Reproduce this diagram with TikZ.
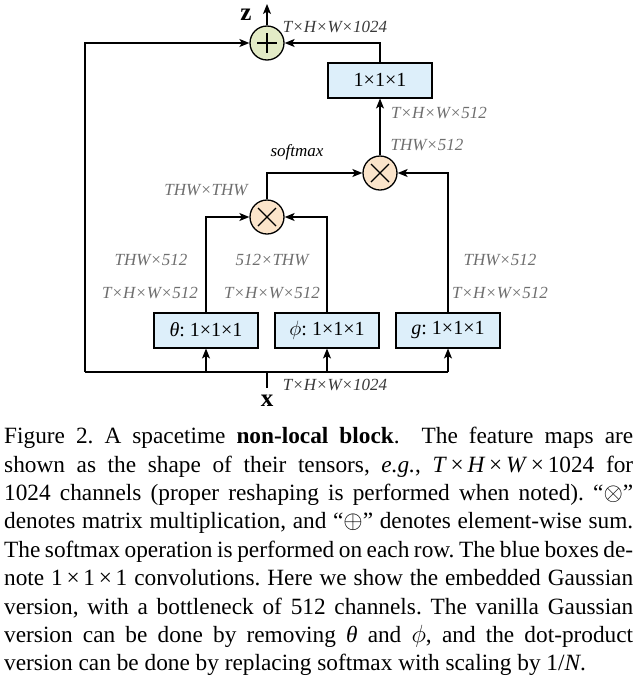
\documentclass[tikz,border=0pt]{standalone}
\usepackage{fontspec}
\setmainfont{Liberation Serif}
\usetikzlibrary{arrows.meta}
\definecolor{convblue}{HTML}{DDEFFA}
\definecolor{plusfill}{HTML}{E3EBC6}
\definecolor{mulfill}{HTML}{FBE4CA}
\definecolor{dimgray}{HTML}{6E6E6E}
\definecolor{darkgray}{HTML}{383838}
\newcommand\tms{\kern0.16em×\kern0.16em}
\frenchspacing
\begin{document}
\begin{tikzpicture}[x=1pt,y=-1pt,
  conv/.style={draw=black,line width=2pt,fill=convblue,minimum width=104pt,minimum height=35pt,inner sep=0pt,font=\fontsize{20}{22}\selectfont},
  opcirc/.style={circle,draw=black,line width=1.3pt,minimum size=34pt,inner sep=0pt},
  wire/.style={line width=1.2pt},
  conn/.style={line width=1.2pt,-{Stealth[length=10pt,width=8pt,inset=2.5pt]}},
  dim/.style={font=\fontsize{17}{19}\selectfont\itshape,text=dimgray,inner sep=0pt},
  dimdark/.style={dim,text=darkgray},
  vec/.style={font=\fontsize{25}{27}\selectfont\bfseries,inner sep=0pt},
  caption/.style={anchor=north west,text width=629pt,align=justify,inner sep=0pt,font=\fontsize{23.3}{28.4}\selectfont}
]
\useasboundingbox (0,0) rectangle (641,678);

% operator circles
\node[opcirc,fill=plusfill] (sum) at (267,43) {};
\draw[wire] (sum.center) +(-10,0) -- +(10,0);
\draw[wire] (sum.center) +(0,-10) -- +(0,10);
\node[opcirc,fill=mulfill] (mul2) at (380,173) {};
\draw[wire] (mul2.center) +(-9,-9) -- +(9,9);
\draw[wire] (mul2.center) +(-9,9) -- +(9,-9);
\node[opcirc,fill=mulfill] (mul1) at (267,217) {};
\draw[wire] (mul1.center) +(-9,-9) -- +(9,9);
\draw[wire] (mul1.center) +(-9,9) -- +(9,-9);

% convolution boxes
\node[conv] (top) at (380,80) {1×1×1};
\node[conv] (theta) at (206,330) {\textit{θ}: 1×1×1};
\node[conv] (phi) at (327,330) {$\phi$: 1×1×1};
\node[conv] (g) at (448,330) {\textit{g}: 1×1×1};

% coordinates
\coordinate (zout) at (267,4);
\coordinate (bl) at (85,372);
\coordinate (xj) at (267,372);
\coordinate (xin) at (267,388);
\coordinate (br) at (g.south |- bl);
\coordinate (tj) at (theta.south |- bl);
\coordinate (pj) at (phi.south |- bl);

% connectors
\draw[conn] (sum) -- (zout);
\draw[conn] (top.north) |- (sum);
\draw[conn] (bl) |- (sum);
\draw[conn] (mul2) -- (top);
\draw[conn] (mul1.north) |- (mul2);
\draw[conn] (g.north) |- (mul2);
\draw[conn] (theta.north) |- (mul1);
\draw[conn] (phi.north) |- (mul1);
\draw[wire] (bl) -- (br);
\draw[wire] (xin) -- (xj);
\draw[conn] (tj) -- (theta.south);
\draw[conn] (pj) -- (phi.south);
\draw[conn] (br) -- (g.south);

% labels
\node[vec] (zlab) at (246,15) {z};
\node[vec] (xlab) at (267,401) {x};
\node[dimdark] (l1) at (335,27) {T×H×W×1024};
\node[dim] (l2) at (439,113) {T×H×W×512};
\node[dim] (l3) at (427,145) {THW×512};
\node[dimdark,text=black] (l4) at (297,152) {softmax};
\node[dim] (l5) at (206,190) {THW×THW};
\node[dim] (l6) at (151,260) {THW×512};
\node[dim] (l7) at (272,260) {512×THW};
\node[dim] (l8) at (500,260) {THW×512};
\node[dim] (l9) at (150,293) {T×H×W×512};
\node[dim] (l10) at (272,293) {T×H×W×512};
\node[dim] (l11) at (500,293) {T×H×W×512};
\node[dimdark] (l12) at (335,385) {T×H×W×1024};

% caption
\node[caption] (cap) at (4,427) {Figure 2. A spacetime \textbf{non-local block}.\ \ The feature maps are\linebreak
shown as the shape of their tensors, \textit{e.g.}, \textit{T}\tms\textit{H}\tms\textit{W}\tms1024 for\linebreak
1024 channels (proper reshaping is performed when noted). “$\otimes$”\linebreak
denotes matrix multiplication, and “$\oplus$” denotes element-wise sum.\linebreak
The softmax operation is performed on each row. The blue boxes de-\linebreak
note 1\tms1\tms1 convolutions. Here we show the embedded Gaussian\linebreak
version, with a bottleneck of 512 channels. The vanilla Gaussian\linebreak
version can be done by removing \textit{θ} and $\phi$, and the dot-product\linebreak
version can be done by replacing softmax with scaling by 1/\textit{N}.};
\end{tikzpicture}
\end{document}
